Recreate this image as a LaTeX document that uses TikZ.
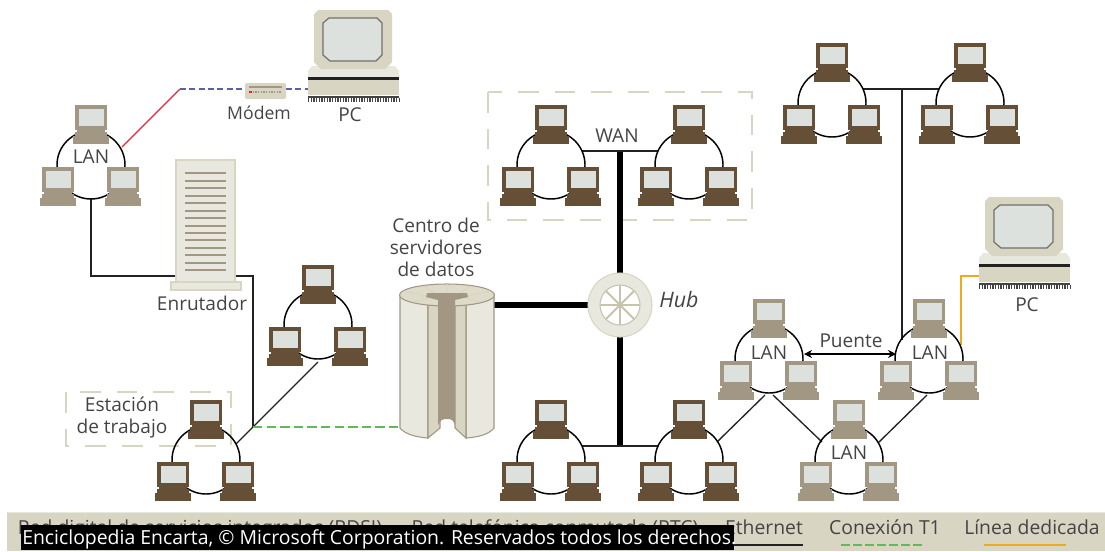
\documentclass[tikz,border=0pt]{standalone}
\usepackage{fontspec}
\setmainfont{Open Sans}
\usetikzlibrary{arrows.meta}
\definecolor{brownpc}{HTML}{654F37}
\definecolor{tanpc}{HTML}{A19783}
\definecolor{screenc}{HTML}{DDE1DD}
\definecolor{creamc}{HTML}{D9D5C3}
\definecolor{lightc}{HTML}{E8E8DE}
\definecolor{edgec}{HTML}{A19783}
\definecolor{spokec}{HTML}{C8C3AE}
\definecolor{inkc}{HTML}{444444}
\definecolor{wirec}{HTML}{222222}
\definecolor{bluec}{HTML}{5A5FA8}
\definecolor{redc}{HTML}{F02030}
\definecolor{greenc}{HTML}{62B85A}
\definecolor{orangec}{HTML}{F0AA20}
\definecolor{barc}{HTML}{D9D5C3}
\tikzset{
  lbl/.style={text=inkc,font=\fontsize{14.3}{16.5}\selectfont,inner sep=0pt,align=center},
  ring/.style={draw=black,line width=1.1pt},
  bus/.style={draw=wirec,line width=1.5pt},
  thinw/.style={draw=wirec,line width=1pt},
  trunk/.style={draw=black,line width=4pt},
  frameb/.style={draw=creamc,line width=1pt,dash pattern=on 15.5pt off 12pt},
  legtxt/.style={text=inkc,font=\fontsize{14.5}{16}\selectfont,inner sep=0pt,anchor=base},
}
\newcommand{\compu}[3]{%
  \begin{scope}[shift={(#1,#2)}]
    \fill[#3] (-16,0) rectangle (16,25);
    \fill[#3] (-14,25) rectangle (14,28);
    \fill[#3] (-16,27) rectangle (16,31);
    \fill[#3] (-18,31) rectangle (18,38.5);
    \fill[screenc] (-12.5,4) rectangle (12.5,21);
  \end{scope}}
\newcommand{\trio}[4]{%
  \coordinate (#1) at (#2,#3);
  \draw[ring] (#2,#3+60) circle[radius=34];
  \compu{#2}{#3}{#4}
  \compu{#2-33}{#3+62}{#4}
  \compu{#2+32}{#3+62}{#4}}
\newcommand{\bigpc}[2]{%
  \begin{scope}[shift={(#1,#2)}]
    \fill[lightc] (312,66) -- (395,66) -- (399,71) -- (399,77) -- (308,77) -- (308,71) -- cycle;
    \fill[wirec] (308,77) rectangle (399,79.5);
    \fill[creamc] (308,79.5) rectangle (399,95);
    \fill[inkc] (308,96) rectangle (399,98);
    \draw[inkc,line width=3pt,dash pattern=on 1.1pt off .9pt] (308,100) -- (399,100);
    \fill[creamc] (318,10) -- (388,10) -- (392,14) -- (392,62) -- (385,69) -- (321,69) -- (314,62) -- (314,14) -- cycle;
    \fill[screenc,draw=inkc!70!creamc,line width=.9pt] (329,18) -- (377,18) -- (382,23) -- (382,55) -- (376,61) -- (330,61) -- (323,55) -- (323,23) -- cycle;
  \end{scope}}
\begin{document}
\begin{tikzpicture}[x=0.75pt,y=-0.75pt]
\useasboundingbox (0,0) rectangle (1105,551);
% junction coordinates
\coordinate (jred) at (122,147);
\coordinate (jbend) at (180,89);
\coordinate (modl) at (245,89);
\coordinate (modr) at (286,89);
\coordinate (pcl) at (308,89);
\coordinate (lanb) at (91,199);
\coordinate (rl) at (176,276);
\coordinate (rr) at (235,276);
\coordinate (rc) at (253,276);
\coordinate (junc) at (253,427);
\coordinate (cyl) at (400,427);
\coordinate (cyr) at (494,305);
\coordinate (hubl) at (588,305);
\coordinate (wanb) at (620,151);
\coordinate (botb) at (620,446);
% frames
\draw[frameb] (488,92) rectangle (752,220);
\draw[frameb] (66,392) rectangle (231,446);
% connectors
\draw[redc,line width=1pt] (jred) -- (jbend);
\draw[bluec,line width=1pt,dash pattern=on 4.5pt off 2.5pt] (jbend) -- (modl);
\draw[bluec,line width=1pt,dash pattern=on 4.5pt off 2.5pt] (modr) -- (pcl);
\draw[bus] (lanb) -- (91,276) -- (rl);
\draw[bus] (rr) -- (rc) -- (junc);
\draw[thinw] (318,362) -- (junc) -- (236,444);
\draw[greenc,line width=1pt,dash pattern=on 7pt off 3.2pt] (junc) -- (cyl);
\draw[trunk] (cyr) -- (hubl);
\draw[trunk] (wanb) -- (botb);
\draw[bus] (582,151) -- (658,151);
\draw[bus] (582,446) -- (658,446);
\draw[bus] (863,89) -- (939,89);
\draw[bus] (902,89) -- (902,340);
\draw[orangec,line width=1.2pt] (961,345) -- (961,276) -- (979,276);
\draw[thinw] (765,395) -- (717,442);
\draw[thinw] (773,395) -- (822,442);
\draw[thinw] (927,395) -- (878,443);
\draw[black,line width=1.2pt,{Stealth[length=6pt,width=6pt]}-{Stealth[length=6pt,width=6pt]}] (804,354) -- (896,354);
% rings
\trio{t1}{91}{105}{tanpc}
\trio{t2}{551}{105}{brownpc}
\trio{t3}{689}{105}{brownpc}
\trio{t4}{832}{43}{brownpc}
\trio{t5}{970}{43}{brownpc}
\trio{t6}{318}{265}{brownpc}
\trio{t7}{206}{400}{brownpc}
\trio{t8}{551}{400}{brownpc}
\trio{t9}{689}{400}{brownpc}
\trio{t10}{769}{299}{tanpc}
\trio{t11}{929}{299}{tanpc}
\trio{t12}{849}{400}{tanpc}
% big PCs
\bigpc{0}{0}
\bigpc{671}{187}
% modem
\fill[creamc,rounded corners=1pt] (245,83) rectangle (286,99);
\draw[tanpc,line width=1pt] (249,87) -- (282,87);
\draw[tanpc,line width=1.5pt,dash pattern=on 1pt off 1pt] (250,92) -- (282,92);
\fill[redc] (249,91) rectangle (252,93);
% router tower
\fill[lightc,draw=creamc,line width=.8pt] (176,160) rectangle (235,282);
\fill[lightc,draw=creamc,line width=.8pt] (171,282) rectangle (241,290);
\foreach \i in {0,...,13}{\fill[tanpc] (185,172.3+\i*7.46) rectangle (226,174.3+\i*7.46);}
% server cylinder
\fill[lightc,draw=edgec,line width=.8pt] (400,296) -- (400,428) .. controls (405,434) and (415,437) .. (428,438) -- (428,296) -- cycle;
\fill[lightc,draw=edgec,line width=.8pt] (494,296) -- (494,428) .. controls (489,434) and (480,437) .. (466,438) -- (466,296) -- cycle;
\fill[creamc,draw=edgec,line width=.8pt] (428,298) -- (428,438) -- (440,428) -- (440,298) -- cycle;
\fill[creamc,draw=edgec,line width=.8pt] (466,298) -- (466,438) -- (455,428) -- (455,298) -- cycle;
\fill[creamc!70!lightc,draw=edgec,line width=.8pt] (447,295) ellipse[x radius=47.5,y radius=11];
\draw[creamc,line width=.8pt] (447,284) -- (447,293) (424,286) -- (434,293) (470,286) -- (460,293) (404,291) -- (427,296) (490,291) -- (467,296) (414,302) -- (428,298) (480,302) -- (466,298);
% server core
\fill[tanpc] (427,293) -- (467,293) -- (468,297) -- (455,300) -- (455,425) .. controls (453,420) and (452,419) .. (447,419) .. controls (442,419) and (441,420) .. (438,425) -- (438,300) -- (426,297) -- cycle;
% hub
\fill[lightc,draw=creamc,line width=.8pt] (620,305) circle[radius=32];
\fill[white,draw=spokec,line width=.8pt] (620,305) circle[radius=20];
\foreach \a in {0,45,...,315}{\draw[spokec,line width=1.4pt] (620,305) -- ++(\a:20);}
% labels
\node[lbl] (lLan1) at (91,157) {LAN};
\node[lbl,font=\fontsize{13.2}{15}\selectfont] (lMod) at (259,113) {Módem};
\node[lbl] (lPc1) at (350,115) {PC};
\node[lbl] (lWan) at (617,136) {WAN};
\node[lbl] (lCen) at (436,247) {Centro de\\servidores\\de datos};
\node[lbl,font=\fontsize{16}{18}\selectfont\itshape] (lHub) at (679,299) {Hub};
\node[lbl] (lEnr) at (202,303) {Enrutador};
\node[lbl] (lEst) at (122,417) {Estación\\de trabajo};
\node[lbl] (lPc2) at (1027,305) {PC};
\node[lbl] (lPue) at (851,341) {Puente};
\node[lbl] (lLan2) at (769,353) {LAN};
\node[lbl] (lLan3) at (930,353) {LAN};
\node[lbl] (lLan4) at (849,453) {LAN};
% legend bar
\fill[barc] (7,512) rectangle (1105,551);
\fill[lightc] (7,512) rectangle (1105,513);
\node[legtxt] (leg1) at (200,534) {Red digital de servicios integrados (RDSI)};
\node[legtxt] (leg2) at (555,534) {Red telefónica conmutada (RTC)};
\node[legtxt] (leg3) at (764,534) {Ethernet};
\node[legtxt] (leg4) at (885,534) {Conexión T1};
\node[legtxt] (leg5) at (1032,534) {Línea dedicada};
\draw[wirec,line width=1.5pt] (725,545) -- (803,545);
\draw[greenc,line width=1.2pt,dash pattern=on 7pt off 2pt] (841,545) -- (923,545);
\draw[orangec,line width=1.2pt] (984,545) -- (1066,545);
\fill[black] (21,525) rectangle (734,550);
\node[anchor=base west,inner sep=0pt,text=white,font=\fontsize{14.55}{16}\selectfont] (copy) at (22,544) {Enciclopedia Encarta, © Microsoft Corporation. Reservados todos los derechos.};
\end{tikzpicture}
\end{document}
